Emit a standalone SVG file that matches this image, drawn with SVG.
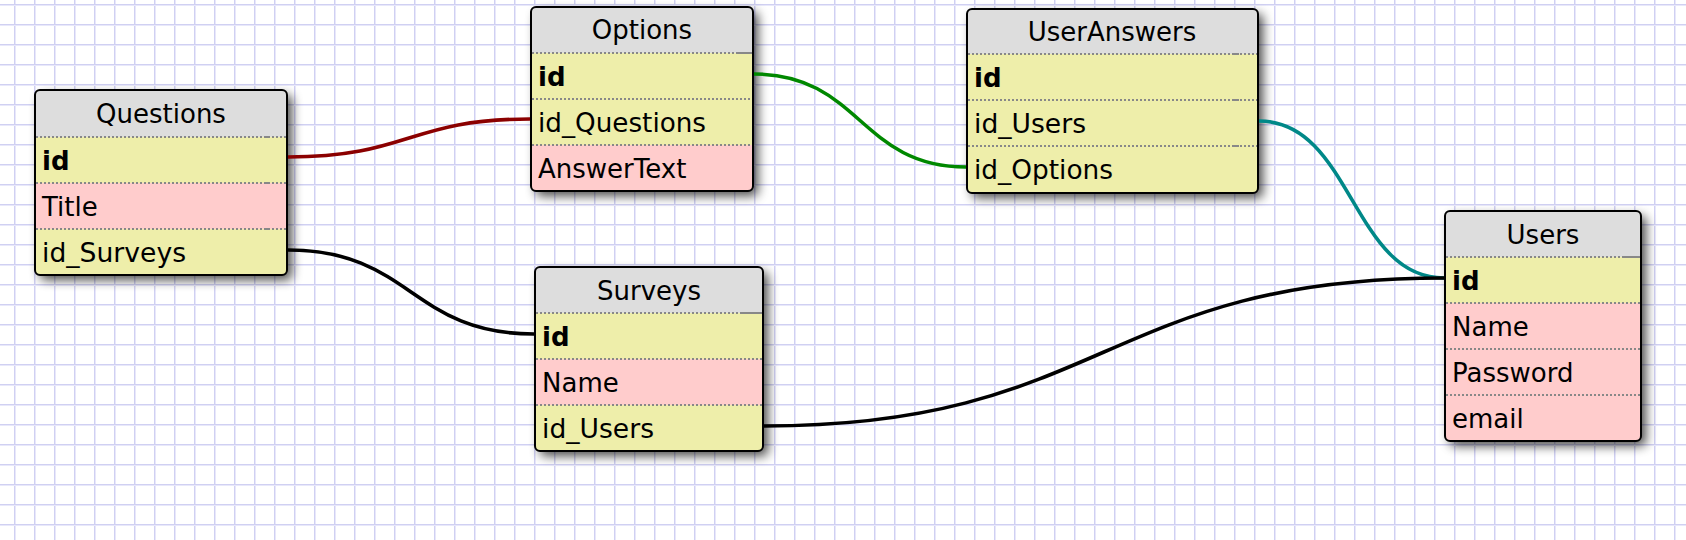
<svg xmlns="http://www.w3.org/2000/svg" width="1686" height="540" viewBox="0 0 1686 540">
<style>
  text { font-family: "DejaVu Sans", Verdana, sans-serif; font-size: 26px; fill: #000; }
  .title { text-anchor: middle; }
  .pk { font-weight: bold; }
  .hdr { fill: #dddddd; }
  .num { fill: #eeeeaa; }
  .chr { fill: #ffcccc; }
  .sep { stroke: #888; stroke-width: 2; stroke-dasharray: 2 2; fill: none; }
  .sepS { stroke: #888; stroke-width: 2; fill: none; }
  .border { fill: none; stroke: #000; stroke-width: 2; }
  .shadow { fill: #000; opacity: 0.7; filter: url(#blur); }
  .conn { fill: none; stroke-width: 3.6; }
</style>
<defs>
  <pattern id="grid" patternUnits="userSpaceOnUse" width="20" height="20">
    <rect width="20" height="20" fill="#fff"/>
    <rect x="14" y="0" width="1" height="20" fill="#d0d0f2"/>
    <rect x="15" y="0" width="1" height="20" fill="#e8e8fa"/>
    <rect x="0" y="4" width="20" height="1" fill="#d0d0f2"/>
    <rect x="0" y="5" width="20" height="1" fill="#e8e8fa"/>
  </pattern>
  <filter id="blur" x="-20%" y="-20%" width="140%" height="140%">
    <feGaussianBlur stdDeviation="5.5"/>
  </filter>
  <clipPath id="cQ"><rect x="35" y="90" width="252" height="185" rx="5"/></clipPath>
  <clipPath id="cO"><rect x="531" y="7" width="222" height="184" rx="5"/></clipPath>
  <clipPath id="cUA"><rect x="967" y="9" width="291" height="184" rx="5"/></clipPath>
  <clipPath id="cS"><rect x="535" y="267" width="228" height="184" rx="5"/></clipPath>
  <clipPath id="cU"><rect x="1445" y="211" width="196" height="230" rx="5"/></clipPath>
</defs>
<rect width="1686" height="540" fill="url(#grid)"/>

<g id="Questions">
  <rect class="shadow" x="40" y="95" width="252" height="185" rx="5"/>
  <g clip-path="url(#cQ)">
    <rect class="hdr" x="35" y="90" width="252" height="47"/>
    <rect class="num" x="35" y="137" width="252" height="46"/>
    <rect class="chr" x="35" y="183" width="252" height="46"/>
    <rect class="num" x="35" y="229" width="252" height="46"/>
  </g>
  <path class="sep" d="M36,137H287M36,183H287M36,229H287"/>
  <path class="sepS" d="M264,137H270M264,183H270M264,229H270"/>
  <rect class="border" x="35" y="90" width="252" height="185" rx="5"/>
  <text class="title" x="161" y="123">Questions</text>
  <text class="pk" x="42" y="170">id</text>
  <text x="42" y="216">Title</text>
  <text x="42" y="262" textLength="144" lengthAdjust="spacingAndGlyphs">id_Surveys</text>
</g>

<g id="Options">
  <rect class="shadow" x="536" y="12" width="222" height="184" rx="5"/>
  <g clip-path="url(#cO)">
    <rect class="hdr" x="531" y="7" width="222" height="46"/>
    <rect class="num" x="531" y="53" width="222" height="46"/>
    <rect class="num" x="531" y="99" width="222" height="46"/>
    <rect class="chr" x="531" y="145" width="222" height="46"/>
  </g>
  <path class="sep" d="M532,53H753M532,99H753M532,145H753"/>
  <path class="sepS" d="M737,53H753"/>
  <rect class="border" x="531" y="7" width="222" height="184" rx="5"/>
  <text class="title" x="642" y="39">Options</text>
  <text class="pk" x="538" y="86">id</text>
  <text x="538" y="132" textLength="168" lengthAdjust="spacingAndGlyphs">id_Questions</text>
  <text x="538" y="178">AnswerText</text>
</g>

<g id="UserAnswers">
  <rect class="shadow" x="972" y="14" width="291" height="184" rx="5"/>
  <g clip-path="url(#cUA)">
    <rect class="hdr" x="967" y="9" width="291" height="45"/>
    <rect class="num" x="967" y="54" width="291" height="139"/>
  </g>
  <path class="sep" d="M968,54H1258M968,100H1258M968,146H1258"/>
  <path class="sepS" d="M1233,54H1239M1233,100H1239M1233,146H1239"/>
  <rect class="border" x="967" y="9" width="291" height="184" rx="5"/>
  <text class="title" x="1112" y="41">UserAnswers</text>
  <text class="pk" x="974" y="87">id</text>
  <text x="974" y="133" textLength="112" lengthAdjust="spacingAndGlyphs">id_Users</text>
  <text x="974" y="179" textLength="139" lengthAdjust="spacingAndGlyphs">id_Options</text>
</g>

<g id="Surveys">
  <rect class="shadow" x="540" y="272" width="228" height="184" rx="5"/>
  <g clip-path="url(#cS)">
    <rect class="hdr" x="535" y="267" width="228" height="46"/>
    <rect class="num" x="535" y="313" width="228" height="46"/>
    <rect class="chr" x="535" y="359" width="228" height="46"/>
    <rect class="num" x="535" y="405" width="228" height="46"/>
  </g>
  <path class="sep" d="M536,313H763M536,359H763M536,405H763"/>
  <path class="sepS" d="M740,313H763"/>
  <rect class="border" x="535" y="267" width="228" height="184" rx="5"/>
  <text class="title" x="649" y="300">Surveys</text>
  <text class="pk" x="542" y="346">id</text>
  <text x="542" y="392">Name</text>
  <text x="542" y="438" textLength="112" lengthAdjust="spacingAndGlyphs">id_Users</text>
</g>

<g id="Users">
  <rect class="shadow" x="1450" y="216" width="196" height="230" rx="5"/>
  <g clip-path="url(#cU)">
    <rect class="hdr" x="1445" y="211" width="196" height="46"/>
    <rect class="num" x="1445" y="257" width="196" height="46"/>
    <rect class="chr" x="1445" y="303" width="196" height="138"/>
  </g>
  <path class="sep" d="M1446,257H1641M1446,303H1641M1446,349H1641M1446,395H1641"/>
  <path class="sepS" d="M1623,257H1641"/>
  <rect class="border" x="1445" y="211" width="196" height="230" rx="5"/>
  <text class="title" x="1543" y="244">Users</text>
  <text class="pk" x="1452" y="290">id</text>
  <text x="1452" y="336">Name</text>
  <text x="1452" y="382">Password</text>
  <text x="1452" y="428">email</text>
</g>

<g id="connectors">
  <path class="conn" stroke="#8b0000" d="M288,157 C409,157 409,119 530,119"/>
  <path class="conn" stroke="#008800" d="M754,74 C860,74 860,167 966,167"/>
  <path class="conn" stroke="#008888" d="M1259,121 C1352,121 1352,278 1444,278"/>
  <path class="conn" stroke="#000000" d="M288,250 C411,250 411,334 534,334"/>
  <path class="conn" stroke="#000000" d="M764,426 C1104,426 1104,278 1444,278"/>
</g>
</svg>
